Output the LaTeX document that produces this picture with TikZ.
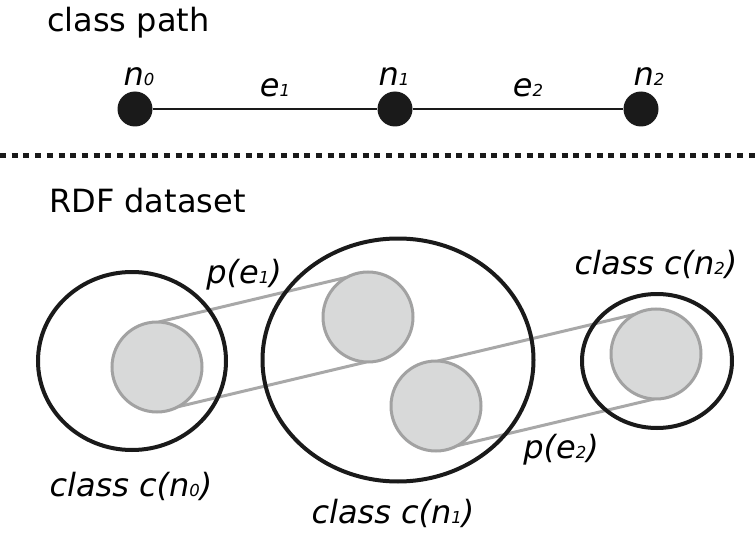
\documentclass[tikz,border=0pt]{standalone}
\usepackage{fontspec}
\setmainfont{DejaVu Sans}
\usetikzlibrary{shapes.geometric,backgrounds}
\definecolor{ink}{HTML}{1A1A1A}
\definecolor{ringgray}{HTML}{A2A2A2}
\definecolor{blobfill}{HTML}{D8D9D9}
\definecolor{linkgray}{HTML}{A8A8A8}
\newcommand{\idx}[1]{{\fontsize{16.5}{16.5}\selectfont #1}}

\begin{document}
\begin{tikzpicture}[x=1pt,y=-1pt,
    lbl/.style={font=\fontsize{32}{38}\selectfont,inner sep=0pt,anchor=base},
    ilbl/.style={lbl,font=\fontsize{32}{38}\selectfont\itshape},
    pathdot/.style={circle,fill=ink,minimum size=35pt,inner sep=0pt},
    classring/.style={ellipse,draw=ink,line width=4pt,inner sep=0pt},
    blob/.style={circle,draw=ringgray,fill=blobfill,line width=3pt,minimum size=90pt,inner sep=0pt,outer sep=0pt},
    link/.style={draw=linkgray,line width=3pt}]
  \useasboundingbox (0,0) rectangle (756,535);

  % class path
  \node[lbl,anchor=base west] (title1) at (47,32) {class path};
  \node[pathdot] (n0) at (135,109) {};
  \node[pathdot] (n1) at (395,109) {};
  \node[pathdot] (n2) at (641,109) {};
  \draw[ink,line width=2pt] (n0) -- (n1) -- (n2);
  \node[ilbl] (ln0) at (139,85) {n\idx{0}};
  \node[ilbl] (ln1) at (394,85) {n\idx{1}};
  \node[ilbl] (ln2) at (649,85) {n\idx{2}};
  \node[ilbl] (le1) at (275,97) {e\idx{1}};
  \node[ilbl] (le2) at (528,97) {e\idx{2}};

  \draw[ink,line width=5pt,dash pattern=on 6pt off 5.7pt] (0,155) -- (756,155);

  % RDF dataset
  \node[lbl,anchor=base west] (title2) at (49,212) {RDF dataset};
  \node[classring,minimum width=188pt,minimum height=178pt] (cls0) at (132,361) {};
  \node[classring,minimum width=271pt,minimum height=243pt] (cls1) at (398,360) {};
  \node[classring,minimum width=150pt,minimum height=134pt] (cls2) at (657,361) {};

  \node[blob] (g0) at (157,367) {};
  \node[blob] (g1a) at (368,317) {};
  \node[blob] (g1b) at (436,406) {};
  \node[blob] (g2) at (656,354) {};

  \begin{pgfonlayer}{background}
    \draw[link] (g0.88) -- (g1a.118);
    \draw[link] (g0.-62) -- (g1a.-92);
    \draw[link] (g1b.88) -- (g2.118);
    \draw[link] (g1b.-62) -- (g2.-92);
  \end{pgfonlayer}

  \node[ilbl] (lp1) at (244,283) {p(e\idx{1})};
  \node[ilbl] (lp2) at (561,458) {p(e\idx{2})};
  \node[ilbl] (lc0) at (131,496) {class c(n\idx{0})};
  \node[ilbl] (lc1) at (393,523) {class c(n\idx{1})};
  \node[ilbl] (lc2) at (656,274) {class c(n\idx{2})};
\end{tikzpicture}
\end{document}
